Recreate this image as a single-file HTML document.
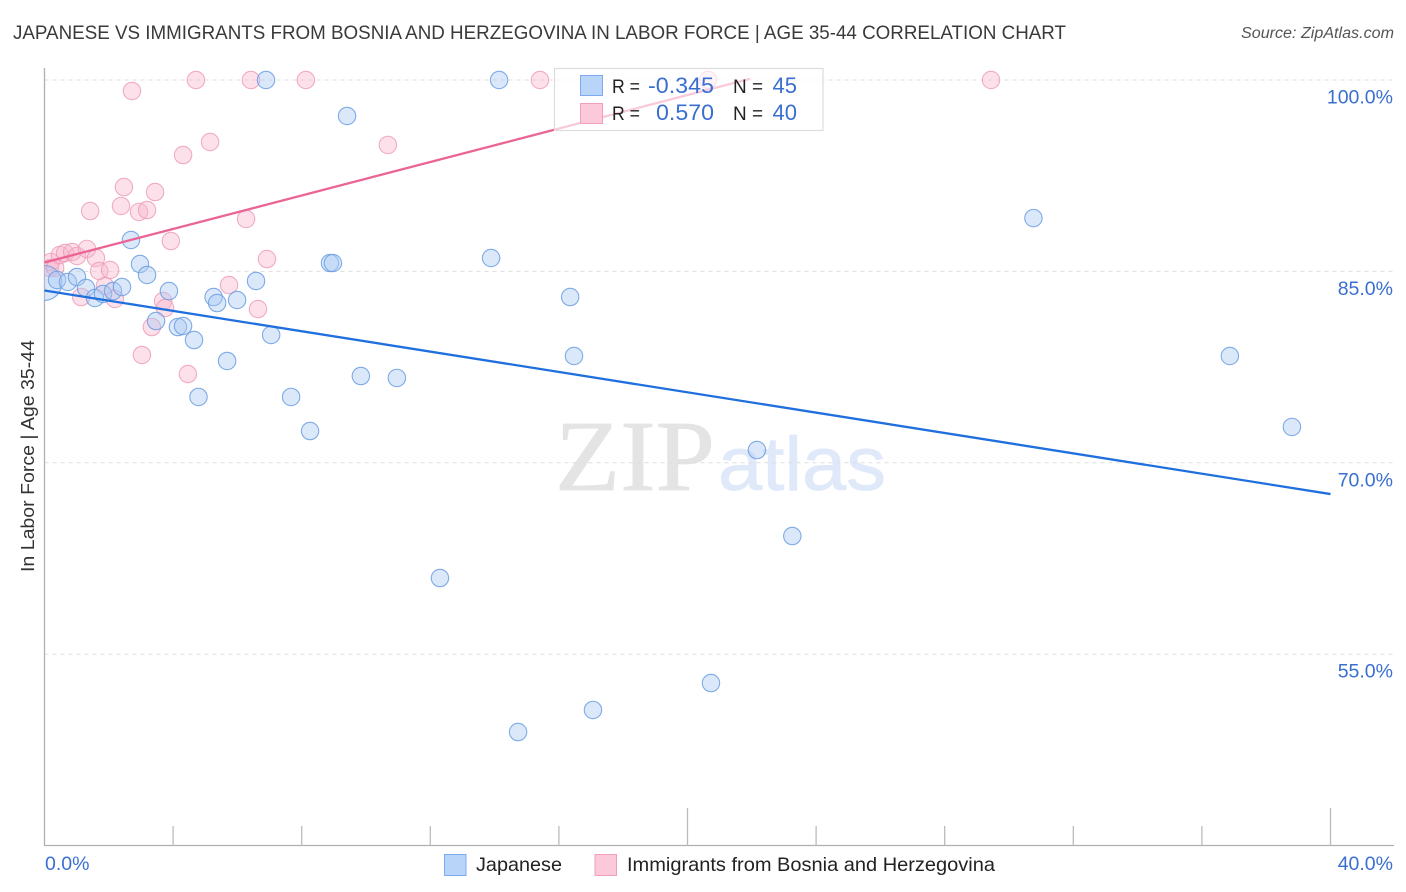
<!DOCTYPE html>
<html lang="en">
<head>
<meta charset="utf-8">
<title>Japanese vs Immigrants from Bosnia and Herzegovina in Labor Force | Age 35-44 Correlation Chart</title>
<style>
html,body{margin:0;padding:0;background:#fff;width:1406px;height:892px;overflow:hidden}
svg{display:block;font-family:"Liberation Sans",sans-serif}
</style>
</head>
<body>
<svg id="chart" width="1406" height="892" viewBox="0 0 1406 892" xmlns="http://www.w3.org/2000/svg">
  <defs>
    <clipPath id="plot-clip"><rect x="44" y="60" width="1350" height="786"/></clipPath>
  </defs>
  <rect width="1406" height="892" fill="#fff"/>
  <text x="13" y="39" font-size="19.5" fill="#3a3a3a" textLength="1053" lengthAdjust="spacingAndGlyphs">JAPANESE VS IMMIGRANTS FROM BOSNIA AND HERZEGOVINA IN LABOR FORCE | AGE 35-44 CORRELATION CHART</text>
  <text x="1241" y="38" font-size="15.5" font-style="italic" fill="#555" textLength="153" lengthAdjust="spacingAndGlyphs">Source: ZipAtlas.com</text>

  <g id="watermark">
    <text x="555" y="490" font-family="'Liberation Serif',serif" font-size="101" fill="#e4e4e4" stroke="#e4e4e4" stroke-width="0.8" textLength="160" lengthAdjust="spacingAndGlyphs">ZIP</text>
    <text x="718" y="490" font-size="76" fill="#dfe9f9" stroke="#dfe9f9" stroke-width="0.8" textLength="168" lengthAdjust="spacingAndGlyphs">atlas</text>
  </g>

  <g id="grid"></g>
  <g id="axes"></g>
  <g id="points-pink" clip-path="url(#plot-clip)"></g>
  <g id="points-blue" clip-path="url(#plot-clip)"></g>
  <g id="trend-lines"></g>
  <g id="y-labels"></g>
  <g id="x-labels"></g>

  <text transform="translate(34,456) rotate(-90)" font-size="18.5" fill="#333" text-anchor="middle" textLength="232" lengthAdjust="spacingAndGlyphs">In Labor Force | Age 35-44</text>

  <g id="stats-legend">
    <rect x="554.5" y="68.5" width="268.5" height="62" fill="#fff" fill-opacity="0.66" stroke="#dcdcdc" stroke-width="1.2"/>
    <rect x="580.5" y="75.5" width="22" height="20" fill="#b9d4f9" stroke="#7daaf0"/>
    <rect x="580.5" y="103.5" width="22" height="20" fill="#fbc9d9" stroke="#f29fbc"/>
    <text x="612" y="93" font-size="19.5" fill="#222" textLength="28" lengthAdjust="spacingAndGlyphs">R =</text>
    <text x="648" y="93" font-size="22" fill="#3a6fd0" textLength="66" lengthAdjust="spacingAndGlyphs">-0.345</text>
    <text x="733" y="93" font-size="19.5" fill="#222" textLength="30" lengthAdjust="spacingAndGlyphs">N =</text>
    <text x="797" y="93" font-size="22" fill="#3a6fd0" text-anchor="end">45</text>
    <text x="612" y="120" font-size="19.5" fill="#222" textLength="28" lengthAdjust="spacingAndGlyphs">R =</text>
    <text x="656" y="120" font-size="22" fill="#3a6fd0" textLength="58" lengthAdjust="spacingAndGlyphs">0.570</text>
    <text x="733" y="120" font-size="19.5" fill="#222" textLength="30" lengthAdjust="spacingAndGlyphs">N =</text>
    <text x="797" y="120" font-size="22" fill="#3a6fd0" text-anchor="end">40</text>
  </g>

  <g id="bottom-legend">
    <rect x="444.5" y="854.5" width="21.5" height="21" fill="#b9d4f9" stroke="#7daaf0"/>
    <text x="476" y="871" font-size="19.5" fill="#222" textLength="86" lengthAdjust="spacingAndGlyphs">Japanese</text>
    <rect x="595" y="854.5" width="21.5" height="21" fill="#fbc9d9" stroke="#f29fbc"/>
    <text x="627" y="871" font-size="19.5" fill="#222" textLength="368" lengthAdjust="spacingAndGlyphs">Immigrants from Bosnia and Herzegovina</text>
  </g>
</svg>

<script>
const japaneseX = [0.00,0.39,0.73,1.01,1.29,1.57,1.82,2.13,2.41,2.69,2.97,3.19,3.47,3.87,4.15,4.31,4.65,4.79,5.26,5.37,5.68,5.99,6.58,6.89,7.05,7.67,8.26,8.88,8.97,9.41,9.84,10.96,12.30,13.89,14.14,14.73,16.35,16.47,17.06,20.73,22.16,23.26,30.76,36.87,38.80];
const japaneseY = [84.09,84.33,84.17,84.56,83.70,82.92,83.23,83.46,83.78,87.46,85.58,84.72,81.11,83.46,80.64,80.72,79.62,75.16,82.99,82.52,77.98,82.76,84.25,100,80.02,75.16,72.49,85.66,85.66,97.18,76.80,76.65,60.97,86.05,100,48.90,82.99,78.37,50.63,52.74,71.00,64.26,89.18,78.37,72.81];
const japaneseWeight = [4,1,1,1,1,1,1,1,1,1,1,1,1,1,1,1,1,1,1,1,1,1,1,1,1,1,1,1,1,1,1,1,1,1,1,1,1,1,1,1,1,1,1,1,1];
const immigrantsX = [0.17,0.20,0.33,0.48,0.64,0.86,1.01,1.32,1.60,1.70,2.04,1.88,2.19,1.14,3.03,3.34,3.69,3.75,4.46,5.74,6.64,6.92,3.93,6.27,1.42,2.38,2.47,2.94,3.19,3.44,4.31,5.15,2.72,4.71,6.42,8.13,10.68,15.41,20.64,29.44];
const immigrantsY = [85.27,85.74,85.27,86.29,86.44,86.52,86.21,86.76,86.05,85.03,85.11,83.86,82.84,82.99,78.45,80.64,82.68,82.13,76.96,83.93,82.05,85.97,87.38,89.11,89.73,90.13,91.61,89.66,89.81,91.22,94.12,95.14,99.14,100,100,100,94.91,100,100,100];
const japaneseTrendX = [0,40];
const japaneseTrendY = [83.5,67.55];
const immigrantsTrendX = [0,21.95];
const immigrantsTrendY = [85.7,100.1];
const yTicks = [100,85,70,55];
const yTickLabels = ["100.0%","85.0%","70.0%","55.0%"];
const xTicks = [0,4,8,12,16,20,24,28,32,36,40];
const xEndLabels = ["0.0%","40.0%"];

const SVG_NS = "http://www.w3.org/2000/svg";
const xScale = v => 44.5 + v * 32.15;
const yScale = v => 80 + (100 - v) * 12.76;
const BASE_RADIUS = 8.7;

function make(tag, attrs, parentId) {
  const el = document.createElementNS(SVG_NS, tag);
  for (const k in attrs) el.setAttribute(k, attrs[k]);
  document.getElementById(parentId).appendChild(el);
  return el;
}

yTicks.forEach((v, i) => {
  const g = make("line", {x1: 44.5, x2: 1394, y1: yScale(v), y2: yScale(v), stroke: "#dedede", "stroke-width": 1, "stroke-dasharray": "4 4"}, "grid");
  
  
  const t = make("text", {x: 1393, y: yScale(v) + 23.5, "font-size": 19.5, fill: "#3a6fd0", "text-anchor": "end"}, "y-labels");
  t.textContent = yTickLabels[i];
  
  
});

const yAxis = make("line", {x1: 44.5, x2: 44.5, y1: 68, y2: 846, stroke: "#b0b0b0", "stroke-width": 1.3}, "axes");


const xAxis = make("line", {x1: 44, x2: 1394, y1: 845.5, y2: 845.5, stroke: "#b0b0b0", "stroke-width": 1.3}, "axes");



xTicks.slice(1).forEach(v => {
  const top = v % 20 === 0 ? 808 : 826;
  const tick = make("line", {x1: xScale(v), x2: xScale(v), y1: top, y2: 845.5, stroke: "#bbb", "stroke-width": 1.3}, "axes");
  
  
});

const xLeft = make("text", {x: 45, y: 870, "font-size": 19.5, fill: "#3a6fd0"}, "x-labels");
xLeft.textContent = xEndLabels[0];


const xRight = make("text", {x: 1393, y: 870, "font-size": 19.5, fill: "#3a6fd0", "text-anchor": "end"}, "x-labels");
xRight.textContent = xEndLabels[1];



immigrantsX.forEach((v, i) => {
  const c = make("circle", {cx: xScale(v), cy: yScale(immigrantsY[i]), r: BASE_RADIUS, fill: "#f8b4ca", "fill-opacity": 0.4, stroke: "#ee9ab6", "stroke-opacity": 0.8, "stroke-width": 1.1}, "points-pink");
  
  
});

japaneseX.forEach((v, i) => {
  const c = make("circle", {cx: xScale(v), cy: yScale(japaneseY[i]), r: BASE_RADIUS * Math.sqrt(japaneseWeight[i]), fill: "#a9c9f3", "fill-opacity": 0.42, stroke: "#6a9de2", "stroke-opacity": 0.85, "stroke-width": 1.1}, "points-blue");
  
  
});

const japaneseLine = make("line", {x1: xScale(japaneseTrendX[0]), y1: yScale(japaneseTrendY[0]), x2: xScale(japaneseTrendX[1]), y2: yScale(japaneseTrendY[1]), stroke: "#1f6fde", "stroke-width": 2.3}, "trend-lines");


const immigrantsLine = make("line", {x1: xScale(immigrantsTrendX[0]), y1: yScale(immigrantsTrendY[0]), x2: xScale(immigrantsTrendX[1]), y2: yScale(immigrantsTrendY[1]), stroke: "#ea6496", "stroke-width": 2.3}, "trend-lines");


</script>
</body>
</html>
